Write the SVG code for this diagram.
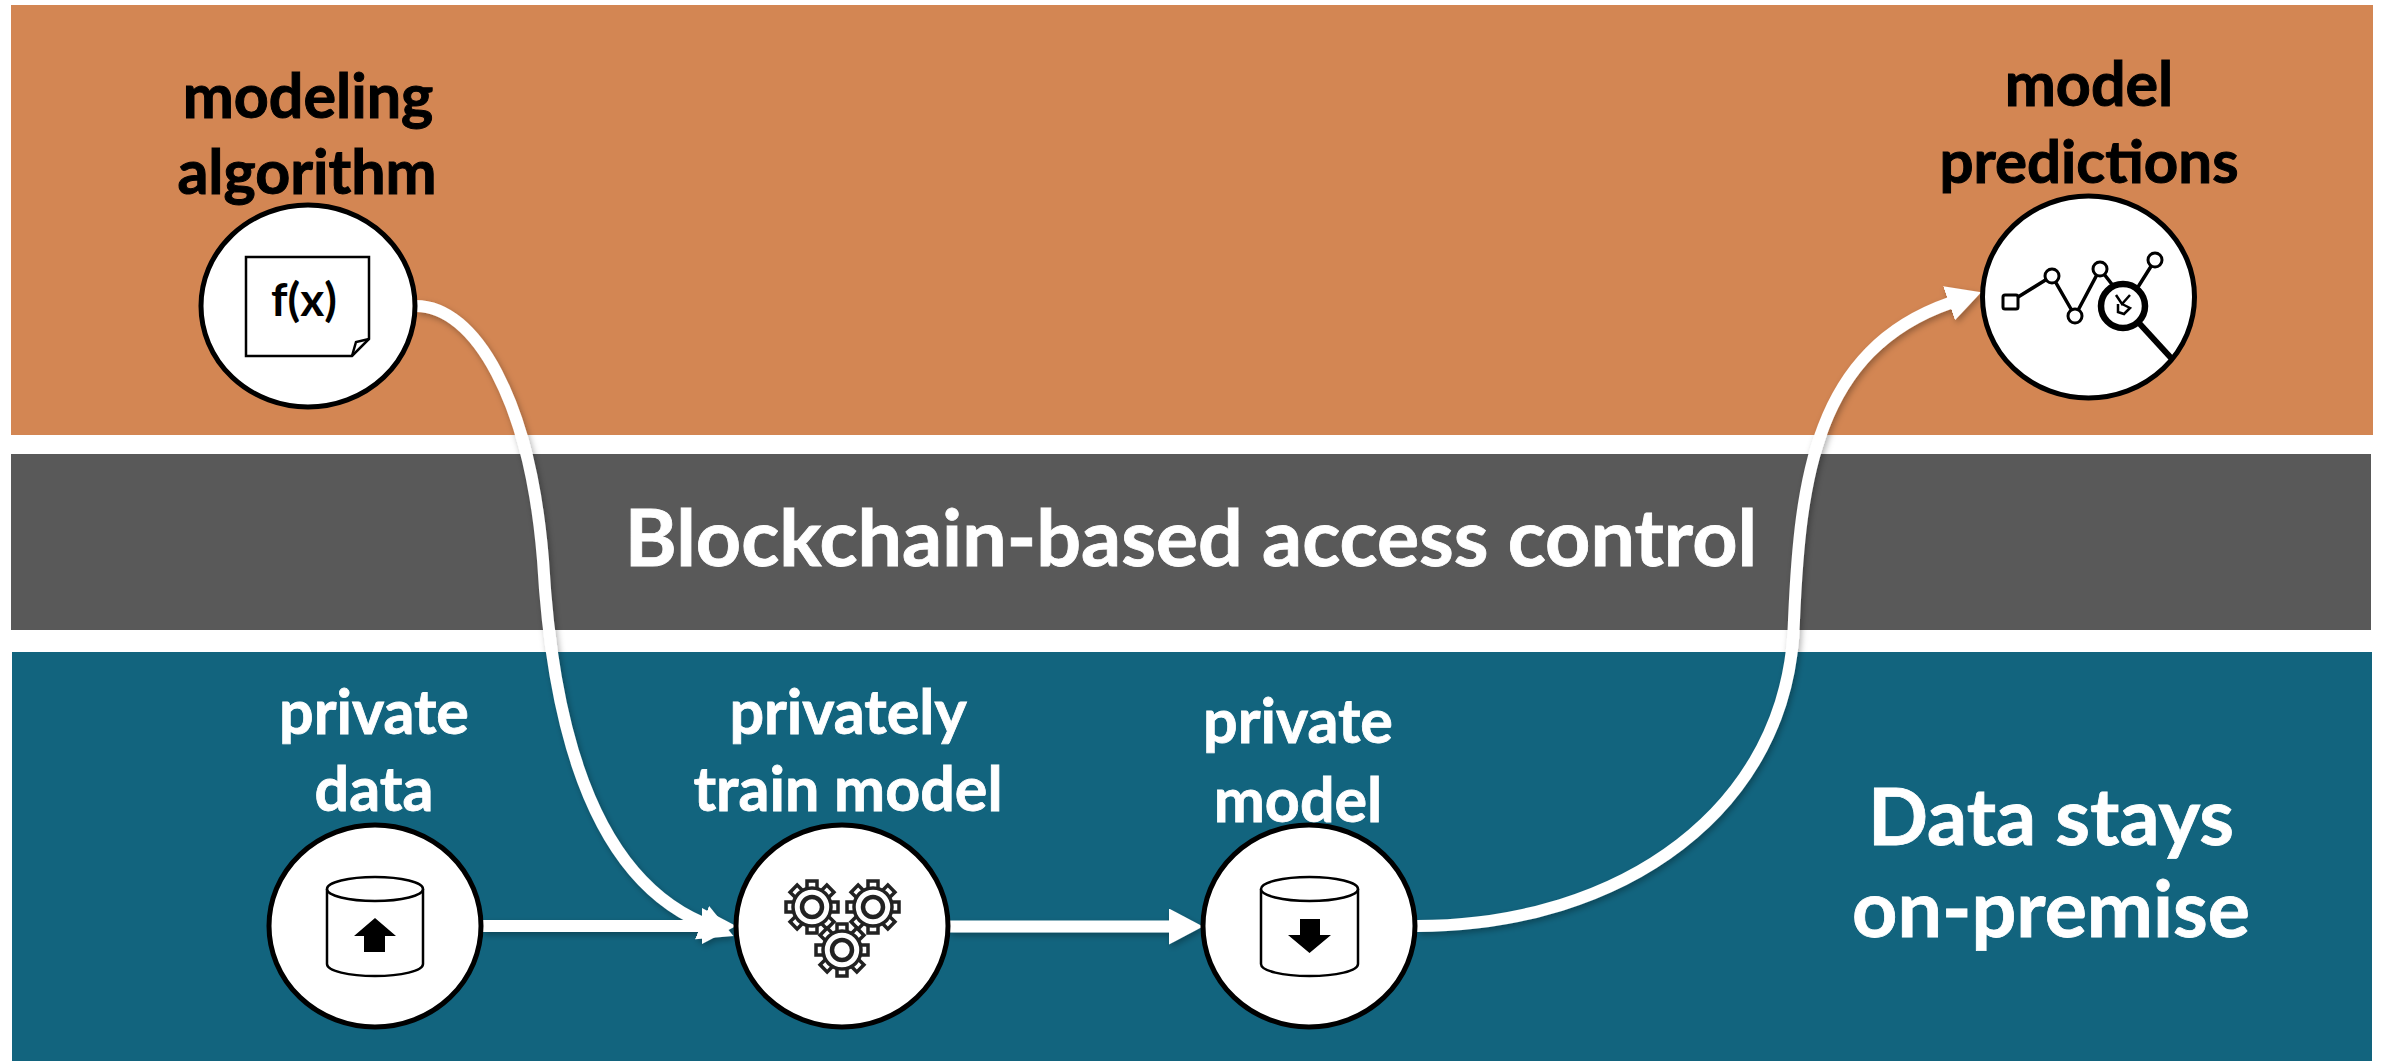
<svg xmlns="http://www.w3.org/2000/svg" xmlns:xlink="http://www.w3.org/1999/xlink" width="2384" height="1061" viewBox="0 0 2384 1061">
<style>
text{font-family:"Lato","Liberation Sans",sans-serif;font-weight:700;text-anchor:middle}
.lb{font-size:61px;fill:#000;stroke:#000;stroke-width:1}
.lw{font-size:61px;fill:#fff;stroke:#fff;stroke-width:.8}
.big{font-size:79px;fill:#fff;stroke:#fff;stroke-width:.8}
.node{fill:#fff;stroke:#000;stroke-width:5}
.ln{fill:none;stroke:#000;stroke-width:2.5}
.cyl{fill:#fff;stroke:#000;stroke-width:2.5}
.conn{fill:none;stroke:#fff;stroke-width:12}
.gear{fill:#fff;stroke:#222;stroke-width:3.5}
</style>
<defs>
<filter id="sh" x="-10%" y="-10%" width="120%" height="120%"><feDropShadow dx="2" dy="3" stdDeviation="3" flood-color="#000" flood-opacity="0.3"/></filter>
<filter id="soft" x="-10%" y="-10%" width="120%" height="120%"><feGaussianBlur stdDeviation="0.6"/></filter>
<marker id="head" markerUnits="userSpaceOnUse" markerWidth="36" markerHeight="38" refX="1" refY="18" orient="auto"><path d="M0 0L34 18L0 36Z" fill="#fff"/></marker>
<g id="gear">
<g id="teeth"><rect x="-5" y="-26" width="10" height="9" class="gear"/><rect x="-5" y="17" width="10" height="9" class="gear"/><rect x="-26" y="-5" width="9" height="10" class="gear"/><rect x="17" y="-5" width="9" height="10" class="gear"/></g>
<use xlink:href="#teeth" href="#teeth" transform="rotate(45)"/>
<circle r="19" class="gear"/><circle r="10" fill="#fff" stroke="#222" stroke-width="4.5"/>
</g>
</defs>
<rect width="2384" height="1061" fill="#fff"/>
<rect id="band-top" x="11" y="5" width="2362" height="430" fill="#D38653"/>
<rect id="band-mid" x="11" y="454" width="2360" height="176" fill="#595959"/>
<rect id="band-bottom" x="12" y="652" width="2360" height="409" fill="#12647E"/>
<text class="big" x="1191" y="566" id="title-blockchain">Blockchain-based access control</text>
<g id="title-onprem"><text class="big" x="2051" y="845">Data stays</text><text class="big" x="2051" y="937">on-premise</text></g>
<g id="connectors" filter="url(#sh)">
<path class="conn" marker-end="url(#head)" d="M416 306C475 306 530 400 543 560C552 720 590 875 703 923"/>
<path class="conn" marker-end="url(#head)" d="M482 926L703 926"/>
<path class="conn" marker-end="url(#head)" d="M949 926.500L1170 926.500"/>
<path class="conn" marker-end="url(#head)" d="M1417 926C1620 926 1790 810 1794 620C1800 480 1815 350 1950 303"/>
</g>
<g id="node-algorithm">
<text class="lb" x="308" y="118">modeling</text><text class="lb" x="307" y="194">algorithm</text>
<ellipse class="node" cx="308" cy="306" rx="107" ry="101"/>
<path class="ln" d="M246 257H369V339L352 356H246Z"/><path class="ln" d="M369 339L356 342L352 356" fill="#fff"/>
<text x="304" y="316" font-size="46" fill="#000">f(x)</text>
</g>
<g id="node-predictions">
<text class="lb" x="2089" y="106">model</text><text class="lb" x="2089" y="183" font-size="60" style="font-size:60px">predictions</text>
<ellipse class="node" cx="2088.500" cy="297" rx="106" ry="101"/>
<g filter="url(#soft)">
<path d="M2010 302L2052 276L2075 316L2100 269L2118 292M2138 287L2155 260" fill="none" stroke="#000" stroke-width="3.500"/>
<rect x="2003" y="295" width="15" height="14" rx="2" fill="#fff" stroke="#000" stroke-width="3"/>
<circle cx="2052" cy="276" r="7" fill="#fff" stroke="#000" stroke-width="3"/>
<circle cx="2075" cy="316" r="7" fill="#fff" stroke="#000" stroke-width="3"/>
<circle cx="2100" cy="269" r="7" fill="#fff" stroke="#000" stroke-width="3"/>
<circle cx="2155" cy="260" r="7" fill="#fff" stroke="#000" stroke-width="3"/>
<circle cx="2123" cy="306" r="22" fill="#fff" stroke="#000" stroke-width="6.500"/>
<path d="M2116 295L2122 304L2130 295M2118 304V312L2124 314L2130 308L2122 304" fill="none" stroke="#000" stroke-width="2.500"/>
<path d="M2139 323L2172 359" stroke="#000" stroke-width="6" fill="none"/>
</g>
</g>
<g id="node-data">
<text class="lw" x="374" y="734">private</text><text class="lw" x="374" y="811">data</text>
<ellipse class="node" cx="375" cy="926" rx="106" ry="101"/>
<path class="cyl" d="M327 889V964C327 971 349 976 375 976C401 976 423 971 423 964V889"/><ellipse class="cyl" cx="375" cy="889" rx="48" ry="12"/>
<path d="M375 918L396 936H385V952H364V936H354Z"/>
</g>
<g id="node-train">
<text class="lw" x="848" y="734">privately</text><text class="lw" x="848" y="811">train model</text>
<ellipse class="node" cx="842" cy="926" rx="106" ry="101"/>
<g filter="url(#soft)"><use xlink:href="#gear" href="#gear" x="812" y="907"/><use xlink:href="#gear" href="#gear" x="873" y="907"/><use xlink:href="#gear" href="#gear" x="842" y="950"/></g>
</g>
<g id="node-model">
<text class="lw" x="1298" y="743">private</text><text class="lw" x="1298" y="822">model</text>
<ellipse class="node" cx="1309" cy="926" rx="106" ry="101"/>
<path class="cyl" d="M1261 889V964C1261 971 1283 976 1309.500 976C1336 976 1358 971 1358 964V889"/><ellipse class="cyl" cx="1309.500" cy="889" rx="48.500" ry="12"/>
<path d="M1300 919H1320V935H1331L1309.500 953L1288 935H1300Z"/>
</g>
</svg>
